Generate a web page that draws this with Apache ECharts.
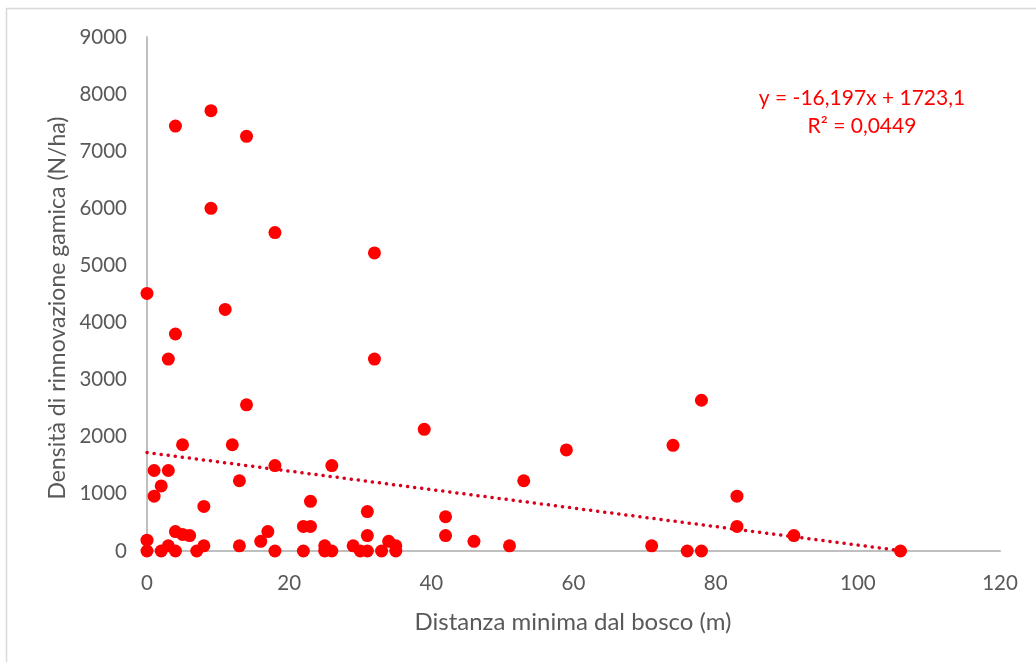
<!DOCTYPE html>
<html>
<head>
<meta charset="utf-8">
<script src="https://cdn.jsdelivr.net/npm/echarts@6/dist/echarts.min.js"></script>
<style>
html,body{margin:0;padding:0;background:#fff;}
#chart{width:1036px;height:662px;}
</style>
</head>
<body>
<div id="chart"></div>
<script>
// Distance (m)
var distance = [0,0,0,1,1,2,2,3,3,3,4,4,4,4,5,5,6,7,8,8,9,9,11,12,13,13,14,14,16,17,18,18,18,22,22,23,23,25,25,26,26,29,30,31,31,31,32,32,33,34,35,35,39,42,42,46,51,53,59,71,74,76,78,78,83,83,91,106];
// Density (N/ha)
var density = [0,190,4510,1410,960,1140,0,3360,1410,90,7440,3800,340,0,1860,290,270,0,780,90,7710,6000,4230,1860,1230,90,7260,2560,170,340,5575,1495,0,430,0,430,870,90,0,1495,0,90,0,690,270,0,5220,3360,0,170,90,0,2130,600,270,170,90,1230,1770,90,1850,0,2640,0,960,430,270,0];
var xTicks = [0,20,40,60,80,100,120];
var yTicks = [0,1000,2000,3000,4000,5000,6000,7000,8000,9000];
// Linear trendline (as displayed)
var slope = -16.197;
var intercept = 1723.1;
var trendX = [0,106];
var eqLine1 = 'y = -16,197x + 1723,1';
var eqLine2 = 'R² = 0,0449';
var xTitle = 'Distanza minima dal bosco (m)';
var yTitle = 'Densità di rinnovazione gamica (N/ha)';

var points = distance.map(function(x,i){return [x,density[i]];});
var trend = trendX.map(function(x){return [x, slope*x+intercept];});

var chart = echarts.init(document.getElementById('chart'));
var font = 'Lato, "Open Sans", sans-serif';
chart.setOption({
  animation:false,
  backgroundColor:'#fff',
  grid:{left:147,top:37,right:36,bottom:111,containLabel:false},
  xAxis:{
    type:'value',min:xTicks[0],max:xTicks[xTicks.length-1],interval:20,
    axisLine:{lineStyle:{color:'#bfbfbf',width:2}},
    axisTick:{show:false},splitLine:{show:false},
    axisLabel:{color:'#595959',fontSize:20.5,fontFamily:font,margin:22,formatter:function(v){return String(v);}}
  },
  yAxis:{
    type:'value',min:yTicks[0],max:yTicks[yTicks.length-1],interval:1000,
    axisLine:{show:true,lineStyle:{color:'#bfbfbf',width:2}},
    axisTick:{show:false},splitLine:{show:false},
    axisLabel:{color:'#595959',fontSize:20.5,fontFamily:font,margin:20,formatter:function(v){return String(v);}}
  },
  graphic:[
    {type:'rect',shape:{x:6.5,y:8.5,width:1100,height:700},style:{fill:'none',stroke:'#d9d9d9',lineWidth:1.5},z:-1},
    {type:'text',x:573,y:622,style:{text:xTitle,fill:'#595959',font:'24px '+font,textAlign:'center',textVerticalAlign:'middle'}},
    {type:'text',x:58,y:308,rotation:Math.PI/2,style:{text:yTitle,fill:'#595959',font:'23px '+font,textAlign:'center',textVerticalAlign:'middle'}},
    {type:'text',x:862,y:98,style:{text:eqLine1,fill:'#ff0000',font:'21px '+font,textAlign:'center',textVerticalAlign:'middle'}},
    {type:'text',x:862,y:126,style:{text:eqLine2,fill:'#ff0000',font:'21px '+font,textAlign:'center',textVerticalAlign:'middle'}}
  ],
  series:[
    {type:'line',data:trend,showSymbol:false,symbol:'none',z:1,
     lineStyle:{color:'#d9001b',width:3.5,type:[0.1,7],cap:'round'}},
    {type:'scatter',data:points,symbol:'circle',symbolSize:13,z:2,
     itemStyle:{color:'#ff0000',opacity:1}}
  ]
});
</script>
</body>
</html>
